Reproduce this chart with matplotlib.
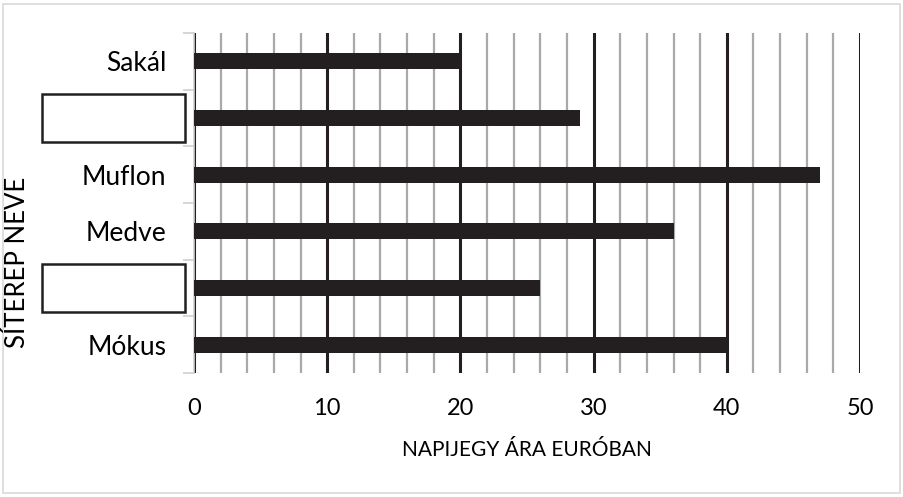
import matplotlib
matplotlib.use("Agg")
import matplotlib.pyplot as plt
from matplotlib.patches import Rectangle
from matplotlib.transforms import blended_transform_factory
from matplotlib.ticker import MultipleLocator

plt.rcParams['font.family'] = ['Lato', 'DejaVu Sans']

# Ski resorts (bottom to top); two names are left blank to be filled in
categories = ["Mókus", "", "Medve", "Muflon", "", "Sakál"]
prices = [40, 26, 36, 47, 29, 20]
x_ticks = [0, 10, 20, 30, 40, 50]
x_title = "NAPIJEGY ÁRA EURÓBAN"
y_title = "SÍTEREP NEVE"

W, H = 904, 497
fig = plt.figure(figsize=(W / 100, H / 100), dpi=100)
ax = fig.add_axes([194 / W, 1 - 373 / H, (860 - 194) / W, 340 / H])

dark = "#231f20"
grey = "#a7a9ac"

pos = list(range(len(categories)))
ax.barh(pos, prices, height=0.28, color=dark, zorder=3)

ax.set_xlim(0, 50)
ax.set_ylim(-0.5, len(categories) - 0.5)

# vertical gridlines: dark every 10, grey every 2
ax.xaxis.set_major_locator(MultipleLocator(10))
ax.xaxis.set_minor_locator(MultipleLocator(2))
ax.set_xticks(x_ticks)
ax.set_xticklabels([str(t) for t in x_ticks])
ax.grid(axis="x", which="minor", color=grey, linewidth=1.6, zorder=1)
ax.grid(axis="x", which="major", color=dark, linewidth=2.2, zorder=2)
ax.tick_params(axis="x", which="both", length=0, pad=18, labelsize=17)

ax.set_yticks(pos)
ax.set_yticklabels(categories)
ax.set_yticks([p - 0.5 for p in pos] + [len(categories) - 0.5], minor=True)
ax.tick_params(axis="y", which="major", length=0, pad=20, labelsize=19)
ax.tick_params(axis="y", which="minor", length=8, color="#d0d0d0", width=1.2)

for s in ["top", "right", "bottom"]:
    ax.spines[s].set_visible(False)
ax.spines["left"].set_color("#d0d0d0")
ax.spines["left"].set_linewidth(1.2)

ax.set_xlabel(x_title, fontsize=15, labelpad=15)
fig.text(18 / W, 1 - 262 / H, y_title, rotation=90, fontsize=18.5,
         ha="center", va="center")

# empty answer boxes over the blank category names
trans = blended_transform_factory(fig.transFigure, ax.transData)
for p, name in zip(pos, categories):
    if name == "":
        ax.add_artist(Rectangle((42 / W, p - 0.42), (185 - 42) / W, 0.84,
                                transform=trans, fill=False, edgecolor=dark,
                                linewidth=1.8, clip_on=False))

# light outer frame
fig.add_artist(Rectangle((3 / W, 4 / H), (W - 7) / W, (H - 8) / H,
                         transform=fig.transFigure, fill=False,
                         edgecolor="#d9d9d9", linewidth=1.2))

fig.savefig("out.png", dpi=100)
